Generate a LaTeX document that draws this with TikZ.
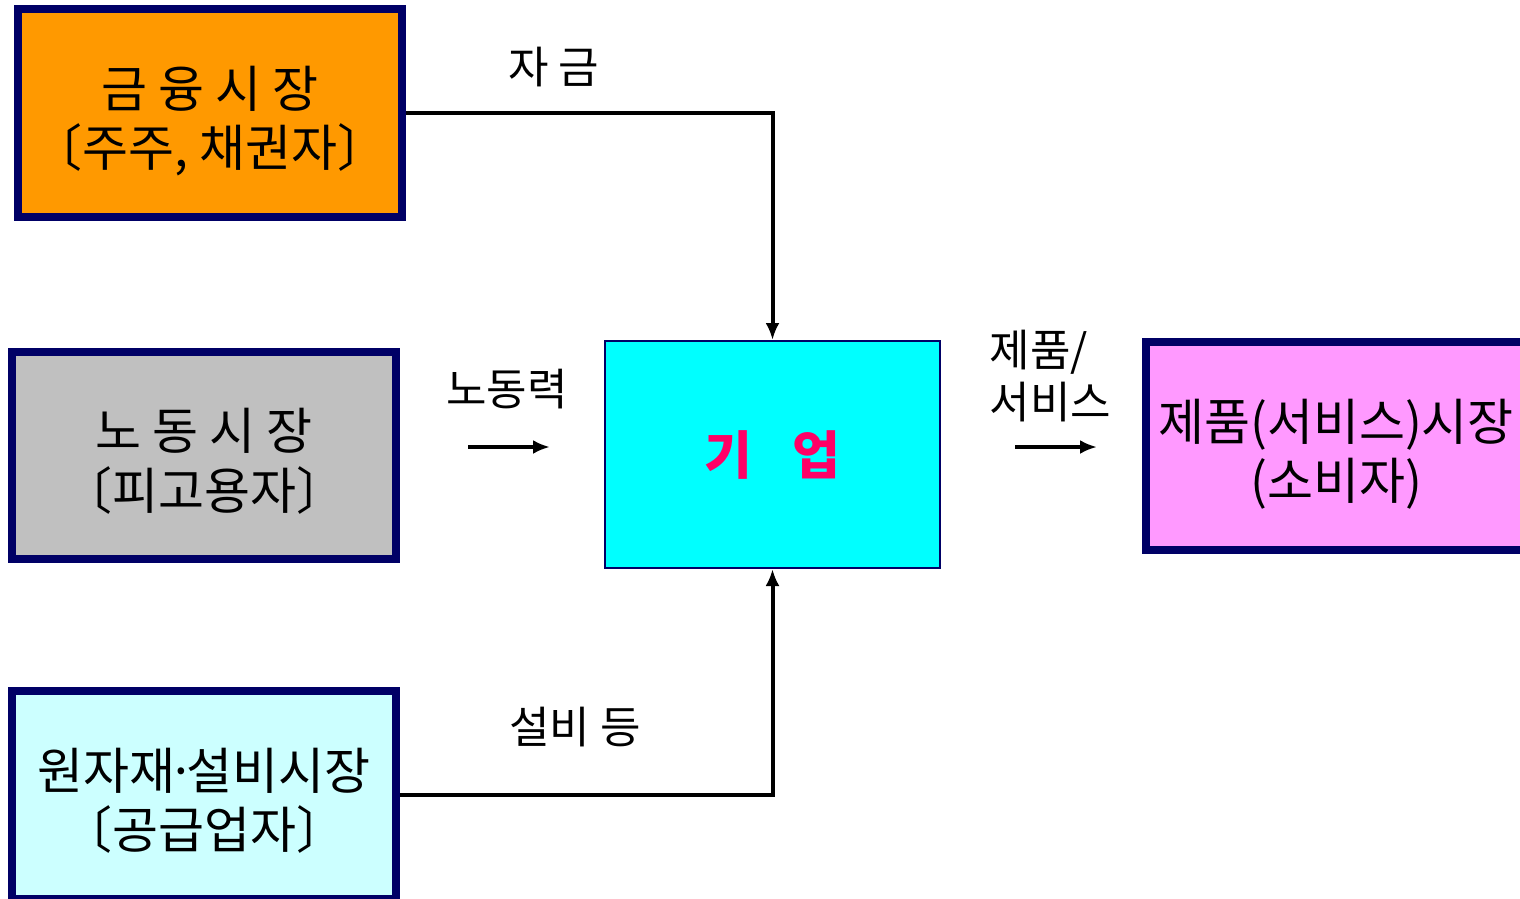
\documentclass[tikz,border=0pt]{standalone}
\usepackage{fontspec}
\setmainfont{Noto Sans CJK KR}
\usepackage{tikz}
\usetikzlibrary{arrows.meta}
\definecolor{boxline}{HTML}{000066}
\definecolor{finfill}{HTML}{FF9900}
\definecolor{labfill}{HTML}{C0C0C0}
\definecolor{matfill}{HTML}{CCFFFF}
\definecolor{firmfill}{HTML}{00FFFF}
\definecolor{prodfill}{HTML}{FF99FF}
\definecolor{firmtext}{HTML}{FF0066}
\tikzset{
  market/.style={draw=boxline, line width=8pt, inner sep=0pt,
    font=\fontsize{50}{56}\selectfont},
  flow/.style={line width=4pt, -{Latex[length=17pt,width=14pt]}},
  flowlabel/.style={font=\fontsize{44}{52}\selectfont, align=left}
}
\newcommand{\marketbox}[6] {\node at (#1) (#2) [market, fill=#3, minimum width=#4pt, minimum height=#5pt]
  {\raisebox{-18pt}[0pt][0pt]{\begin{tabular}{@{}c@{}}#6\end{tabular}}};}
\newcommand{\flowtext}[2] {\node at (#1) [flowlabel] {#2};}
\newcommand{\middot}{\hspace{-9pt}·\hspace{-9pt}}

\begin{document}
\begin{tikzpicture}[x=1pt, y=-1pt]
\useasboundingbox (0,0) rectangle (1520,899);
\marketbox {210,113} {fin} {finfill} {384} {208} {금 융 시 장\\〔주주, 채권자〕};
\marketbox {204,455.5} {lab} {labfill} {384} {207} {노 동 시 장\\〔피고용자〕};
\marketbox {204,795} {mat} {matfill} {384} {208} {원자재\middot 설비시장\\〔공급업자〕};
\marketbox {1343,446} {prod} {prodfill} {394} {208} {\hspace*{-14pt}제품(서비스)시장\\\hspace*{-14pt}(소비자)};
\node at (772.5,454.5) (firm) [draw=boxline, line width=2pt, fill=firmfill,
  minimum width=335pt, minimum height=227pt, inner sep=0pt,
  font=\fontsize{52}{60}\selectfont\bfseries, text=firmtext] {기\hspace{40pt}업};

\coordinate (labA) at (468,447);
\coordinate (labB) at (550,447);
\coordinate (prodA) at (1015,447);
\coordinate (prodB) at (1097,447);

\draw [flow] (fin.east) -| (firm.north);
\draw [flow] (mat.east) -| (firm.south);
\draw [flow] (labA) -- (labB);
\draw [flow] (prodA) -- (prodB);

\flowtext {554,67} {자 금};
\flowtext {507,389} {노동력};
\flowtext {575,727} {설비 등};
\node at (986,376) [flowlabel, anchor=west] {제품/\\서비스};
\end{tikzpicture}
\end{document}
